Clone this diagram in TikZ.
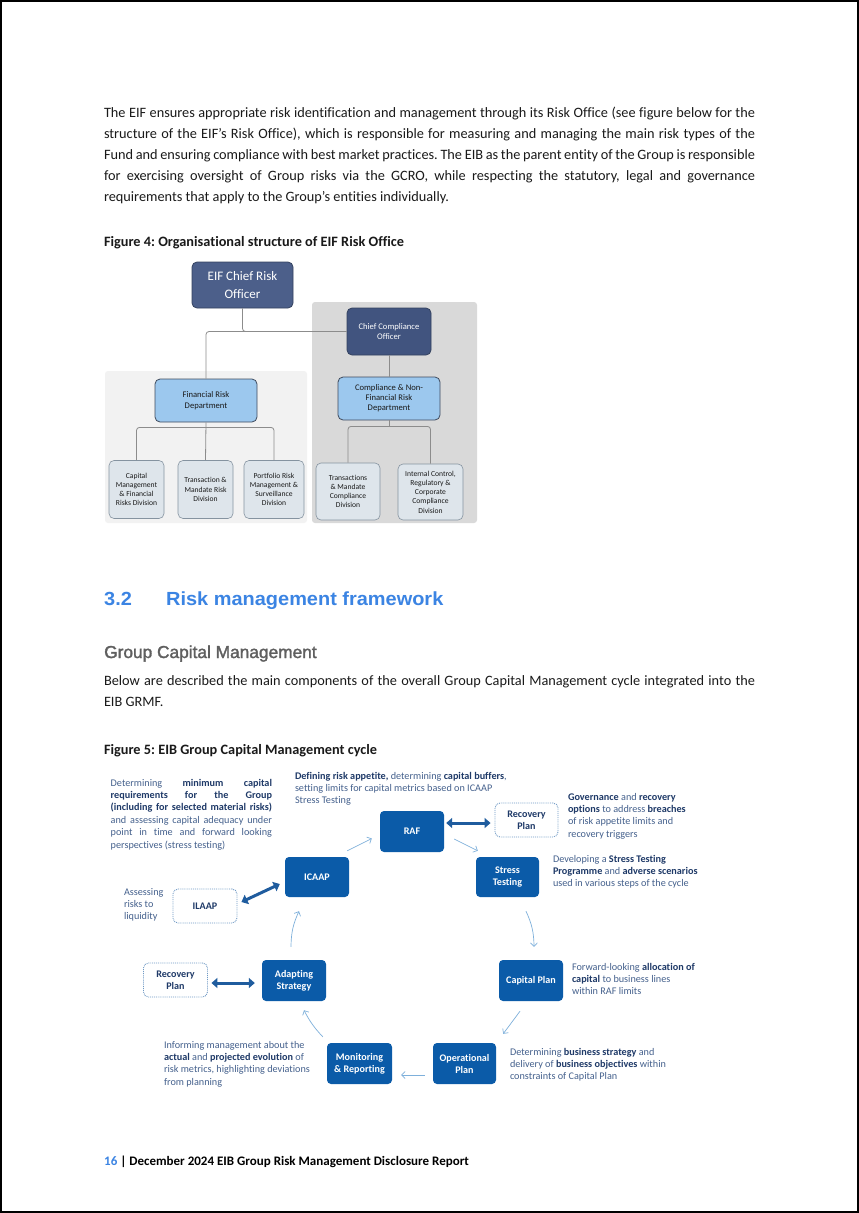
\documentclass[tikz,border=0pt]{standalone}
\usepackage{fontspec}
\setmainfont{Carlito}[Ligatures=NoCommon]
\newfontfamily\headfont[FakeStretch=1.05]{Liberation Sans}
\newfontfamily\subheadfont[FakeBold=1.8]{Liberation Sans}
\usetikzlibrary{arrows.meta,calc}
\definecolor{bodyc}{HTML}{1A1A1A}
\definecolor{headblue}{HTML}{3B84E3}
\definecolor{subgray}{HTML}{5F5F5F}
\definecolor{croc}{HTML}{4C5F8A}
\definecolor{crob}{HTML}{34425F}
\definecolor{ccoc}{HTML}{41547F}
\definecolor{deptc}{HTML}{9CC8EE}
\definecolor{deptb}{HTML}{3F4B5E}
\definecolor{divc}{HTML}{DEE5EB}
\definecolor{divb}{HTML}{8593A0}
\definecolor{panelL}{HTML}{F2F2F2}
\definecolor{panelR}{HTML}{D9D9D9}
\definecolor{orgc}{HTML}{8C8C8C}
\definecolor{eibblue}{HTML}{0B5BA8}
\definecolor{figc}{HTML}{45618D}
\definecolor{figb}{HTML}{1F3A68}
\definecolor{dotc}{HTML}{6E98C4}
\definecolor{arrc}{HTML}{7EB0DB}
\definecolor{dblc}{HTML}{1F5C9E}
\newcommand{\jl}[2]{\hbox to #1{\spaceskip=0.226em plus 1fil minus 0.1em\relax#2}}
\newcommand{\hb}[1]{{\bfseries\color{figb}#1}}
\frenchspacing
\tikzset{
  pline/.style={anchor=base west, inner sep=0pt, outer sep=0pt, text=bodyc, font=\fontsize{14.3}{17}\selectfont},
  capline/.style={pline, font=\fontsize{14.3}{17}\selectfont\bfseries},
  fline/.style={anchor=base west, inner sep=0pt, outer sep=0pt, text=figc, font=\fontsize{10.2}{12.4}\selectfont},
  crobox/.style={draw=crob, fill=croc, line width=0.8pt, rounded corners=5pt, text=white, align=center, inner sep=0pt},
  deptbox/.style={draw=deptb, fill=deptc, line width=0.8pt, rounded corners=5pt, text=bodyc, align=center, inner sep=0pt, minimum width=102pt, minimum height=43pt},
  divbox/.style={draw=divb, fill=divc, line width=0.6pt, rounded corners=5pt, text=bodyc, align=center, inner sep=0pt, minimum height=58pt, font=\fontsize{7.6}{9.2}\selectfont},
  orgline/.style={draw=orgc, line width=0.8pt, rounded corners=3pt},
  bluebox/.style={fill=eibblue, rounded corners=4pt, text=white, align=center, inner sep=0pt, minimum width=64pt, minimum height=41pt, font=\fontsize{10.1}{12}\selectfont\bfseries},
  dotbox/.style={draw=dotc, densely dotted, line width=0.9pt, fill=white, rounded corners=5pt, text=figb, align=center, inner sep=0pt, minimum width=64pt, minimum height=34pt, font=\fontsize{10.1}{12}\selectfont\bfseries},
  cyc/.style={draw=arrc, line width=0.7pt, -{Straight Barb[length=3.5pt,width=7pt]}},
  dbl/.style={draw=dblc, line width=3pt, {Triangle[length=6pt,width=10pt]}-{Triangle[length=6pt,width=10pt]}}
}
\begin{document}
\begin{tikzpicture}[x=1pt,y=-1pt]
\useasboundingbox (0,0) rectangle (859,1213);
\fill[white] (0,0) rectangle (859,1213);
\draw[line width=2pt] (1,1) rectangle (858,1212);

% ---------- paragraph
\node[pline] (p1) at (104,117.5) {\jl{651pt}{The EIF ensures appropriate risk identification and management through its Risk Office (see figure below for the}};
\node[pline] (p2) at (104,138.5) {\jl{651pt}{structure of the EIF’s Risk Office), which is responsible for measuring and managing the main risk types of the}};
\node[pline] (p3) at (104,159.5) {\jl{651pt}{Fund and ensuring compliance with best market practices. The EIB as the parent entity of the Group is responsible}};
\node[pline] (p4) at (104,180.5) {\jl{651pt}{for exercising oversight of Group risks via the GCRO, while respecting the statutory, legal and governance}};
\node[pline] (p5) at (104,201.5) {requirements that apply to the Group’s entities individually.};

\node[capline] (cap4) at (104,246) {Figure 4: Organisational structure of EIF Risk Office};

% ---------- org chart
\fill[panelL, rounded corners=3pt] (105,371) rectangle (307,523);
\fill[panelR, rounded corners=3pt] (312,302) rectangle (477,523);

\node[crobox, minimum width=101pt, minimum height=46pt, font=\fontsize{13}{18.5}\selectfont] (cro) at (242.5,285) {EIF Chief Risk\\Officer};
\node[crobox, fill=ccoc, minimum width=84pt, minimum height=47pt, font=\fontsize{8.6}{10.5}\selectfont] (cco) at (389,331.5) {Chief Compliance\\Officer};
\node[deptbox, font=\fontsize{8.6}{11}\selectfont] (frd) at (206,400.5) {Financial Risk\\Department};
\node[deptbox, font=\fontsize{8.6}{10}\selectfont] (cnf) at (389,398.5) {Compliance \& Non-\\Financial Risk\\Department};

\node[divbox, minimum width=55pt] (d1) at (136.5,489.5) {Capital\\Management\\\& Financial\\Risks Division};
\node[divbox, minimum width=55pt] (d2) at (205.5,489.5) {Transaction \&\\Mandate Risk\\Division};
\node[divbox, minimum width=60pt] (d3) at (274,489.5) {Portfolio Risk\\Management \&\\Surveillance\\Division};
\node[divbox, minimum width=64pt, minimum height=57pt] (d4) at (348,491.5) {Transactions\\\& Mandate\\Compliance\\Division};
\node[divbox, minimum width=65pt, minimum height=56pt] (d5) at (430.5,492) {Internal Control,\\Regulatory \&\\Corporate\\Compliance\\Division};

\draw[orgline] (cro.south) |- (cco.west);
\draw[orgline] (cco.west) -| (frd.north);
\draw[orgline] (cco.south) -- (cnf.north);
\coordinate (j1) at ($(frd.south)+(0,5)$);
\coordinate (j2) at ($(cnf.south)+(0,6)$);
\draw[orgline] (frd.south) -- (d2.north);
\draw[orgline] (j1) -| (d1.north);
\draw[orgline] (j1) -| (d3.north);
\draw[orgline] (cnf.south) -- (j2);
\draw[orgline] (j2) -| (d4.north);
\draw[orgline] (j2) -| (d5.north);

% ---------- section heading
\node[anchor=base west, inner sep=0pt, text=headblue, font=\headfont\bfseries\fontsize{19}{22}\selectfont] (h32) at (104,605) {3.2};
\node[anchor=base west, inner sep=0pt, text=headblue, font=\headfont\bfseries\fontsize{19}{22}\selectfont] (hrm) at (166,605) {Risk management framework};
\node[anchor=base west, inner sep=0pt, text=subgray, font=\subheadfont\fontsize{17.3}{20}\selectfont] (hgcm) at (104,658) {Group Capital Management};

\node[pline] (b1) at (104,685) {\jl{651pt}{Below are described the main components of the overall Group Capital Management cycle integrated into the}};
\node[pline] (b2) at (104,706) {EIB GRMF.};

\node[capline] (cap5) at (104,754) {Figure 5: EIB Group Capital Management cycle};

% ---------- figure 5 boxes
\node[bluebox] (raf) at (412,831.5) {RAF};
\node[bluebox, minimum height=40pt] (icaap) at (317,877) {ICAAP};
\node[bluebox, minimum width=63pt, minimum height=40pt] (stress) at (507.5,877) {Stress\\Testing};
\node[bluebox] (capital) at (531,980.5) {Capital Plan};
\node[bluebox] (adapt) at (294,980.5) {Adapting\\Strategy};
\node[bluebox, minimum width=63pt] (oper) at (464.5,1063.5) {Operational\\Plan};
\node[bluebox, minimum width=65pt] (monit) at (359.5,1063.5) {Monitoring\\\& Reporting};
\node[dotbox, minimum width=63pt] (rec1) at (526.5,820) {Recovery\\Plan};
\node[dotbox] (ilaap) at (205,906) {ILAAP};
\node[dotbox] (rec2) at (175.5,980) {Recovery\\Plan};

% ---------- cycle arrows
\draw[cyc] ([shift={(-2,-6)}]icaap.north east) -- ([shift={(-8,7)}]raf.west);
\draw[cyc] ([shift={(10,7.5)}]raf.east) -- ([shift={(2,-6)}]stress.north west);
\draw[cyc] ([shift={(18.5,14)}]stress.south) to[bend left=12] ([shift={(3,-13)}]capital.north);
\draw[cyc] ([shift={(-11,10)}]capital.south) -- ([shift={(7,-9)}]oper.north east);
\draw[cyc] ([shift={(-8,11.5)}]oper.west) -- ([shift={(9,11.5)}]monit.east);
\draw[cyc] ([shift={(-4,-6)}]monit.north west) to[bend left=8] ([shift={(10,9)}]adapt.south);
\draw[cyc] ([shift={(-3,-13)}]adapt.north) to[bend left=12] ([shift={(-18,14)}]icaap.south);

\draw[dbl] ([shift={(2,-8.5)}]raf.east) -- ([shift={(-4,3)}]rec1.west);
\draw[dbl] ([shift={(4,-4)}]ilaap.east) -- ([shift={(-5,7)}]icaap.west);
\draw[dbl] ([shift={(3.5,3)}]rec2.east) -- ([shift={(-7,2.5)}]adapt.west);

% ---------- figure 5 texts
\node[fline] (t1a) at (110.7,786) {\jl{161.3pt}{Determining \hb{minimum capital}}};
\node[fline] (t1b) at (110.7,798.4) {\jl{161.3pt}{\hb{requirements for the Group}}};
\node[fline] (t1c) at (110.7,810.8) {\jl{161.3pt}{\hb{(including for selected material risks)}}};
\node[fline] (t1d) at (110.7,823.2) {\jl{161.3pt}{and assessing capital adequacy under}};
\node[fline] (t1e) at (110.7,835.6) {\jl{161.3pt}{point in time and forward looking}};
\node[fline] (t1f) at (110.7,848) {perspectives (stress testing)};

\node[fline] (t2a) at (295,779) {\hb{Defining risk appetite,} determining \hb{capital buffers},};
\node[fline] (t2b) at (295,791.4) {setting limits for capital metrics based on ICAAP};
\node[fline] (t2c) at (295,803.8) {Stress Testing};

\node[fline] (t3a) at (568,800) {\hb{Governance} and \hb{recovery}};
\node[fline] (t3b) at (568,812.4) {\hb{options} to address \hb{breaches}};
\node[fline] (t3c) at (568,824.8) {of risk appetite limits and};
\node[fline] (t3d) at (568,837.2) {recovery triggers};

\node[fline] (t4a) at (553,862) {Developing a \hb{Stress Testing}};
\node[fline] (t4b) at (553,874.4) {\hb{Programme} and \hb{adverse scenarios}};
\node[fline] (t4c) at (553,886.8) {used in various steps of the cycle};

\node[fline] (t5a) at (124,895) {Assessing};
\node[fline] (t5b) at (124,907.4) {risks to};
\node[fline] (t5c) at (124,919.8) {liquidity};

\node[fline] (t6a) at (572,970) {Forward-looking \hb{allocation of}};
\node[fline] (t6b) at (572,982.4) {\hb{capital} to business lines};
\node[fline] (t6c) at (572,994.8) {within RAF limits};

\node[fline] (t7a) at (164,1048) {Informing management about the};
\node[fline] (t7b) at (164,1060.4) {\hb{actual} and \hb{projected evolution} of};
\node[fline] (t7c) at (164,1072.8) {risk metrics, highlighting deviations};
\node[fline] (t7d) at (164,1085.2) {from planning};

\node[fline] (t8a) at (510,1055) {Determining \hb{business strategy} and};
\node[fline] (t8b) at (510,1067.4) {delivery of \hb{business objectives} within};
\node[fline] (t8c) at (510,1079.8) {constraints of Capital Plan};

% ---------- footer
\node[anchor=base west, inner sep=0pt, font=\fontsize{13}{15}\selectfont\bfseries] (foot) at (104,1165) {\textcolor{headblue}{16} | December 2024 EIB Group Risk Management Disclosure Report};
\end{tikzpicture}
\end{document}
